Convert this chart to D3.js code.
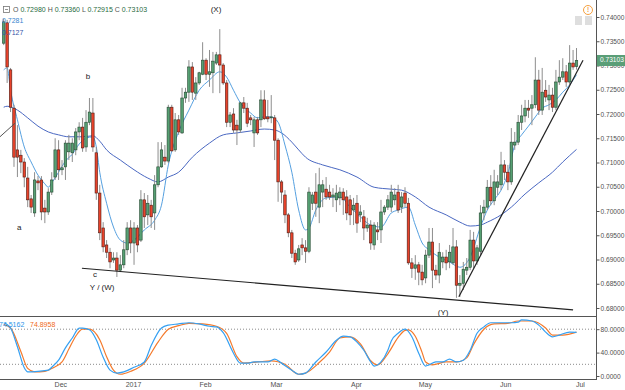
<!DOCTYPE html>
<html>
<head>
<meta charset="utf-8">
<script src="https://cdnjs.cloudflare.com/ajax/libs/d3/7.8.5/d3.min.js"></script>
<style>
  body { margin: 0; background: #fff; }
  svg { display: block; font-family: "Liberation Sans", Arial, sans-serif; }
</style>
</head>
<body>
<div id="chart"></div>
<script>
// daily candles, 8 Nov 2016 .. 30 Jun 2017 (index 0..167)
let opens = [
  0.7346,0.7388,0.7291,0.7212,0.7126,0.7115,0.7101,0.7068,0.7025,0.6996,0.7062,0.7064,
  0.7006,0.6998,0.7039,0.7070,0.7126,0.7085,0.7091,0.7122,0.7120,0.7126,0.7163,0.7173,
  0.7132,0.7183,0.7202,0.7120,0.7037,0.6965,0.6930,0.6915,0.6899,0.6903,0.6878,0.6889,
  0.6920,0.6965,0.6934,0.6965,0.6940,0.7023,0.6992,0.7012,0.6996,0.7054,0.7091,0.7111,
  0.7103,0.7214,0.7126,0.7188,0.7161,0.7233,0.7245,0.7297,0.7243,0.7264,0.7282,0.7311,
  0.7282,0.7285,0.7305,0.7322,0.7301,0.7264,0.7183,0.7200,0.7177,0.7167,0.7223,0.7212,
  0.7192,0.7161,0.7188,0.7188,0.7229,0.7194,0.7192,0.7192,0.7146,0.7060,0.7033,0.6992,
  0.6955,0.6913,0.6899,0.6930,0.6924,0.6917,0.7016,0.7039,0.7008,0.7039,0.7045,0.7039,
  0.7029,0.7023,0.7027,0.7039,0.7029,0.7023,0.7002,0.7016,0.6992,0.6988,0.6965,0.6971,
  0.6930,0.6961,0.6961,0.6998,0.7008,0.7008,0.7023,0.7039,0.7008,0.7037,0.7016,0.6893,
  0.6882,0.6889,0.6874,0.6862,0.6909,0.6936,0.6878,0.6868,0.6895,0.6905,0.6895,0.6893,
  0.6926,0.6847,0.6851,0.6878,0.6884,0.6940,0.6897,0.6917,0.6996,0.7008,0.7049,0.7021,
  0.7049,0.7054,0.7095,0.7080,0.7060,0.7136,0.7142,0.7183,0.7196,0.7212,0.7212,0.7219,
  0.7270,0.7208,0.7249,0.7229,0.7239,0.7214,0.7266,0.7276,0.7287,0.7266,0.7305,0.72980
];
let highs = [
  0.7396,0.7394,0.7295,0.7219,0.7177,0.7126,0.7109,0.7091,0.7033,0.7080,0.7072,0.7072,
  0.7023,0.7047,0.7080,0.7150,0.7146,0.7105,0.7146,0.7157,0.7150,0.7171,0.7183,0.7192,
  0.7208,0.7233,0.7233,0.7132,0.7054,0.6977,0.6940,0.6924,0.6915,0.6915,0.6909,0.6940,
  0.6977,0.6981,0.6977,0.6971,0.7043,0.7037,0.7033,0.7023,0.7074,0.7142,0.7142,0.7136,
  0.7219,0.7219,0.7202,0.7198,0.7254,0.7254,0.7311,0.7307,0.7276,0.7287,0.7348,0.7315,
  0.7332,0.7328,0.7328,0.7375,0.7305,0.7270,0.7204,0.7212,0.7188,0.7225,0.7235,0.7223,
  0.7198,0.7194,0.7194,0.7249,0.7249,0.7229,0.7239,0.7198,0.7150,0.7064,0.7043,0.6996,
  0.6961,0.6920,0.6930,0.6944,0.6940,0.7049,0.7039,0.7078,0.7089,0.7064,0.7070,0.7054,
  0.7047,0.7054,0.7049,0.7047,0.7043,0.7033,0.7027,0.7033,0.7012,0.7002,0.6986,0.6981,
  0.6977,0.6977,0.7023,0.7012,0.7033,0.7054,0.7047,0.7054,0.7039,0.7049,0.7027,0.6903,
  0.6909,0.6895,0.6889,0.6920,0.6965,0.6965,0.6889,0.6934,0.6915,0.6920,0.6930,0.6965,
  0.6940,0.6868,0.6895,0.6903,0.6961,0.6957,0.6930,0.7012,0.7023,0.7064,0.7074,0.7085,
  0.7074,0.7122,0.7105,0.7095,0.7171,0.7163,0.7198,0.7219,0.7229,0.7229,0.7239,0.7317,
  0.7291,0.7295,0.7270,0.7260,0.7254,0.7291,0.7311,0.7315,0.7301,0.7342,0.7332,0.73360
];
let lows = [
  0.7342,0.7264,0.7204,0.7091,0.7070,0.7078,0.7049,0.7008,0.6996,0.6988,0.7043,0.6981,
  0.6975,0.6992,0.7033,0.7064,0.7064,0.7074,0.7064,0.7105,0.7101,0.7115,0.7146,0.7122,
  0.7122,0.7177,0.7122,0.7023,0.6940,0.6915,0.6903,0.6882,0.6893,0.6864,0.6874,0.6882,
  0.6909,0.6913,0.6889,0.6915,0.6936,0.6965,0.6971,0.6965,0.6961,0.7049,0.7089,0.7095,
  0.7099,0.7122,0.7122,0.7157,0.7159,0.7223,0.7225,0.7229,0.7229,0.7260,0.7280,0.7270,
  0.7256,0.7243,0.7301,0.7243,0.7260,0.7173,0.7173,0.7161,0.7136,0.7161,0.7202,0.7173,
  0.7177,0.7132,0.7157,0.7173,0.7188,0.7183,0.7181,0.7105,0.7019,0.7016,0.6975,0.6946,
  0.6903,0.6889,0.6895,0.6909,0.6893,0.6913,0.7002,0.6988,0.6975,0.7008,0.7023,0.7023,
  0.7008,0.6998,0.7012,0.6992,0.6981,0.6971,0.6971,0.6955,0.6977,0.6940,0.6957,0.6920,
  0.6920,0.6940,0.6934,0.6992,0.7002,0.6998,0.7012,0.6996,0.6996,0.7008,0.6889,0.6862,
  0.6858,0.6847,0.6847,0.6851,0.6903,0.6841,0.6858,0.6851,0.6882,0.6878,0.6882,0.6889,
  0.6821,0.6823,0.6837,0.6868,0.6878,0.6882,0.6889,0.6909,0.6981,0.7002,0.7012,0.7012,
  0.7033,0.7043,0.7064,0.7043,0.7054,0.7126,0.7136,0.7167,0.7183,0.7192,0.7177,0.7212,
  0.7198,0.7198,0.7225,0.7208,0.7204,0.7208,0.7260,0.7270,0.7256,0.7260,0.7291,0.72915
];
let closes = [
  0.7390,0.7297,0.7214,0.7111,0.7111,0.7101,0.7070,0.7023,0.7008,0.7064,0.7058,0.6998,
  0.6998,0.7039,0.7064,0.7126,0.7085,0.7089,0.7140,0.7140,0.7140,0.7163,0.7173,0.7130,
  0.7183,0.7204,0.7132,0.7037,0.6955,0.6926,0.6915,0.6895,0.6903,0.6878,0.6889,0.6920,
  0.6965,0.6934,0.6965,0.6930,0.7023,0.6988,0.7016,0.6988,0.7054,0.7091,0.7126,0.7103,
  0.7214,0.7124,0.7188,0.7163,0.7233,0.7245,0.7297,0.7245,0.7264,0.7285,0.7311,0.7282,
  0.7287,0.7309,0.7322,0.7301,0.7264,0.7183,0.7198,0.7167,0.7167,0.7223,0.7212,0.7181,
  0.7188,0.7188,0.7161,0.7229,0.7190,0.7190,0.7194,0.7146,0.7060,0.7039,0.6992,0.6955,
  0.6913,0.6895,0.6922,0.6924,0.6917,0.7039,0.7033,0.7016,0.7054,0.7054,0.7029,0.7029,
  0.7033,0.7037,0.7039,0.7023,0.6996,0.6992,0.7012,0.6975,0.6998,0.6965,0.6971,0.6934,
  0.6971,0.6957,0.6998,0.7008,0.7023,0.7039,0.7033,0.7002,0.7029,0.7016,0.6893,0.6882,
  0.6889,0.6874,0.6858,0.6909,0.6936,0.6878,0.6868,0.6915,0.6905,0.6893,0.6915,0.6926,
  0.6847,0.6851,0.6880,0.6884,0.6940,0.6897,0.6924,0.6996,0.7008,0.7049,0.7021,0.7060,
  0.7060,0.7095,0.7080,0.7060,0.7142,0.7142,0.7183,0.7196,0.7212,0.7208,0.7219,0.7270,
  0.7208,0.7245,0.7235,0.7239,0.7214,0.7266,0.7276,0.7287,0.7266,0.7305,0.7297,0.73103
];

// moving averages, read at these candle indices
let fastIdx = [0,1,2,4,6,8,10,12,13,14,16,18,20,22,24,26,27,28,30,32,34,36,38,41,44,46,48,51,54,57,60,63,65,67,69,72,74,76,78,80,82,84,86,88,89,91,94,98,101,104,107,110,113,115,118,120,122,124,127,130,133,136,139,141,143,145,147,149,151,153,155,157,159,161,163,165,167];
let fastMA  = [0.7291,0.7295,0.7249,0.7188,0.7132,0.7101,0.7074,0.7056,0.7049,0.7058,0.7080,0.7103,0.7117,0.7138,0.7150,0.7153,0.7132,0.7080,0.7016,0.6967,0.6940,0.6934,0.6940,0.6961,0.6981,0.7012,0.7095,0.7163,0.7208,0.7249,0.7270,0.7287,0.7276,0.7249,0.7223,0.7202,0.7192,0.7194,0.7194,0.7183,0.7136,0.7080,0.7002,0.6961,0.6965,0.7002,0.7027,0.7029,0.7008,0.6988,0.6971,0.6967,0.6996,0.7002,0.7008,0.6971,0.6934,0.6920,0.6905,0.6895,0.6884,0.6905,0.6967,0.7002,0.7023,0.7043,0.7078,0.7136,0.7157,0.7175,0.7194,0.7212,0.7219,0.7229,0.7245,0.7260,0.7281];
let slowIdx = [0,1,4,7,10,13,16,19,23,26,28,30,34,38,42,45,48,51,55,60,64,68,72,76,79,81,84,86,88,93,98,103,108,113,116,120,124,129,133,136,139,141,145,148,152,156,160,163,167];
let slowMA  = [0.7214,0.7216,0.7208,0.7192,0.7175,0.7163,0.7157,0.7153,0.7153,0.7155,0.7144,0.7126,0.7105,0.7085,0.7068,0.7060,0.7070,0.7080,0.7111,0.7140,0.7157,0.7161,0.7165,0.7169,0.7167,0.7161,0.7142,0.7126,0.7111,0.7095,0.7085,0.7070,0.7049,0.7045,0.7043,0.7029,0.7008,0.6992,0.6977,0.6969,0.6971,0.6977,0.6992,0.7008,0.7035,0.7058,0.7080,0.7101,0.7127];

// stochastic %K (blue) and %D (orange)
let kIdx = [0,1,2,4,6,7,10,13,14,16,18,20,22,23,25,27,29,31,33,35,38,41,43,46,48,51,54,57,60,62,64,67,69,71,73,77,79,81,84,86,88,91,94,97,99,101,103,105,107,108,110,112,113,115,117,119,121,123,124,126,128,130,132,134,136,138,140,142,145,148,150,151,154,156,158,160,162,165,167];
let kVal = [91,88,82,50,14,7,8,10,15,27,48,65,82,82,79,62,32,10,5,7,15,24,52,82,87,89,91,89,85,84,74,39,22,22,24,24,29,22,10,3,5,24,41,61,68,67,58,44,24,17,24,44,60,73,80,67,39,17,19,24,24,29,24,27,44,73,84,91,91,91,92,96,94,87,75,67,70,75,74.5162];
let dIdx = [0,2,5,7,9,12,14,17,19,21,23,25,28,30,32,34,37,41,45,48,51,54,58,62,65,68,70,74,78,82,86,88,92,95,98,101,104,107,109,112,115,117,118,120,122,123,125,129,132,135,137,140,143,147,150,154,158,160,163,167];
let dVal = [88,82,42,13,7,8,13,24,46,68,80,80,62,33,10,3,8,22,58,80,86,90,89,85,73,33,22,24,26,20,3,5,23,41,65,67,55,26,19,38,66,78,79,68,40,24,19,24,24,31,54,80,89,90,94,94,82,70,70,74.8958];

// axes
let priceTicks = [0.68,0.685,0.69,0.695,0.70,0.705,0.71,0.715,0.72,0.725,0.73,0.735,0.74];
let stochTicks = [0,40,80];
let monthLabels = ["Dec","2017","Feb","Mar","Apr","May","Jun","Jul"];
let monthPos = [16.5,37.7,58.7,79.4,102.7,122.8,146.2,168];

// drawn trend lines [index, price]
let wedgeLine = [[22.8,0.6882],[166,0.6796]];
let supportLine = [[132.7,0.6823],[168.9,0.7311]];
let oldLine = [[-1.1,0.7153],[3.3,0.7181]];

// wave labels
let waveText  = ["(X)","b","a","c","Y / (W)","(Y)"];
let waveIdx   = [61.9,24.6,4.5,26.6,28.7,128.1];
let wavePrice = [0.7414,0.7276,0.6965,0.6868,0.6841,0.6790];

let W = 625, H = 390, axisX = 596.5;

let svg = d3.select("#chart").append("svg")
    .attr("width", W)
    .attr("height", H);

let x = d3.scaleLinear().domain([0, 167]).range([3.7, 576.5]),
    y = d3.scaleLinear().domain([0.68, 0.74]).range([308, 17]),
    ys = d3.scaleLinear().domain([0, 100]).range([376, 317.5]);

let defs = svg.append("defs");
defs.append("clipPath").attr("id", "clipMain")
  .append("rect").attr("x", 0).attr("y", 0).attr("width", axisX).attr("height", 316);
defs.append("clipPath").attr("id", "clipStoch")
  .append("rect").attr("x", 0).attr("y", 317).attr("width", axisX).attr("height", 62);

let main = svg.append("g").attr("clip-path", "url(#clipMain)");

// moving averages
let maLine = d3.line()
    .x(function(d) { return x(d[0]); })
    .y(function(d) { return y(d[1]); })
    .curve(d3.curveMonotoneX);

main.append("path")
    .attr("d", maLine(d3.zip(slowIdx, slowMA)))
    .attr("fill", "none").attr("stroke", "#4a68c2").attr("stroke-width", 1);
main.append("path")
    .attr("d", maLine(d3.zip(fastIdx, fastMA)))
    .attr("fill", "none").attr("stroke", "#55a0e0").attr("stroke-width", 1);

// candles
let candles = opens.map(function(o, i) {
    return { i: i, o: o, h: highs[i], l: lows[i], c: closes[i] };
});

main.selectAll("line.wick")
    .data(candles)
  .enter().append("line")
    .attr("class", "wick")
    .attr("x1", function(d) { return x(d.i); })
    .attr("x2", function(d) { return x(d.i); })
    .attr("y1", function(d) { return y(d.h); })
    .attr("y2", function(d) { return y(d.l); })
    .attr("stroke", "#8d8d8d")
    .attr("stroke-width", 1);

main.selectAll("rect.body")
    .data(candles)
  .enter().append("rect")
    .attr("class", "body")
    .attr("x", function(d) { return x(d.i) - 1.25; })
    .attr("width", 2.5)
    .attr("y", function(d) { return y(Math.max(d.o, d.c)); })
    .attr("height", function(d) { return Math.max(0.8, Math.abs(y(d.o) - y(d.c))); })
    .attr("fill", function(d) { return d.c >= d.o ? "#56a073" : "#e8432b"; })
    .attr("stroke", function(d) { return d.c >= d.o ? "#23472f" : "#4e1a12"; })
    .attr("stroke-width", 0.6);

// trend lines
let tl = d3.line()
    .x(function(d) { return x(d[0]); })
    .y(function(d) { return y(d[1]); });
main.append("path").attr("d", tl(wedgeLine))
    .attr("stroke", "#222").attr("stroke-width", 1.2).attr("fill", "none");
main.append("path").attr("d", tl(supportLine))
    .attr("stroke", "#222").attr("stroke-width", 1.2).attr("fill", "none");
main.append("path").attr("d", tl(oldLine))
    .attr("stroke", "#555").attr("stroke-width", 1).attr("fill", "none");

// wave labels
main.selectAll("text.wave")
    .data(waveText)
  .enter().append("text")
    .attr("class", "wave")
    .attr("x", function(d, i) { return x(waveIdx[i]); })
    .attr("y", function(d, i) { return y(wavePrice[i]); })
    .attr("text-anchor", "middle")
    .attr("dominant-baseline", "middle")
    .attr("font-size", 8)
    .attr("fill", "#1a1a1a")
    .text(function(d) { return d; });

// stochastic panel
let st = svg.append("g").attr("clip-path", "url(#clipStoch)");
[80, 20].forEach(function(v) {
    st.append("line")
        .attr("x1", 0).attr("x2", axisX)
        .attr("y1", ys(v)).attr("y2", ys(v))
        .attr("stroke", "#8a8a8a")
        .attr("stroke-dasharray", "1,2");
});
let stLine = d3.line()
    .x(function(d) { return x(d[0]); })
    .y(function(d) { return ys(d[1]); })
    .curve(d3.curveMonotoneX);
st.append("path").attr("d", stLine(d3.zip(dIdx, dVal)))
    .attr("fill", "none").attr("stroke", "#f47a2c").attr("stroke-width", 1.2);
st.append("path").attr("d", stLine(d3.zip(kIdx, kVal)))
    .attr("fill", "none").attr("stroke", "#35a0f2").attr("stroke-width", 1.2);

// frame lines
svg.append("line").attr("x1", 0).attr("x2", axisX).attr("y1", 316.5).attr("y2", 316.5)
    .attr("stroke", "#555").attr("stroke-width", 1);
svg.append("line").attr("x1", 0).attr("x2", axisX).attr("y1", 379.5).attr("y2", 379.5)
    .attr("stroke", "#555").attr("stroke-width", 1);
svg.append("line").attr("x1", axisX).attr("x2", axisX).attr("y1", 0).attr("y2", 380)
    .attr("stroke", "#555").attr("stroke-width", 1);

// price axis
let pAxis = svg.append("g")
    .attr("transform", "translate(" + axisX + ",0)")
    .call(d3.axisRight(y).tickValues(priceTicks).tickSize(3).tickPadding(1)
          .tickFormat(d3.format(".5f")));
let sAxis = svg.append("g")
    .attr("transform", "translate(" + axisX + ",0)")
    .call(d3.axisRight(ys).tickValues(stochTicks).tickSize(3).tickPadding(1)
          .tickFormat(d3.format(".4f")));
let tAxis = svg.append("g")
    .attr("transform", "translate(0,379.5)")
    .call(d3.axisBottom(x).tickValues(monthPos).tickSize(0).tickPadding(3)
          .tickFormat(function(d, i) { return monthLabels[i]; }));

[pAxis, sAxis].forEach(function(g) {
    g.selectAll(".tick text").attr("font-size", 6.6);
});
tAxis.selectAll(".tick text").attr("font-size", 7);
[pAxis, sAxis, tAxis].forEach(function(g) {
    g.select(".domain").remove();
    g.selectAll(".tick line").attr("stroke", "#555");
    g.selectAll(".tick text")
        .attr("fill", "#505050")
        .attr("font-family", "Liberation Sans, Arial, sans-serif");
});

// last price tag
let last = closes[closes.length - 1];
svg.append("rect")
    .attr("x", axisX + 0.5).attr("y", y(last) - 5.5)
    .attr("width", 28).attr("height", 11)
    .attr("fill", "#5a9e77");
svg.append("text")
    .attr("x", axisX + 3.5).attr("y", y(last))
    .attr("dominant-baseline", "middle")
    .attr("font-size", 6.6).attr("fill", "#fff")
    .text(d3.format(".5f")(last));

// legend, top left
svg.append("rect").attr("x", 3.5).attr("y", 6.5).attr("width", 6).attr("height", 6)
    .attr("fill", "#fff").attr("stroke", "#777").attr("stroke-width", 0.8);
svg.append("line").attr("x1", 5).attr("x2", 8).attr("y1", 9.5).attr("y2", 9.5)
    .attr("stroke", "#777").attr("stroke-width", 0.8);

let ohlcName = ["O", "H", "L", "C"],
    ohlcVal = [opens[167], highs[167], lows[167], closes[167]];
let leg = svg.append("text").attr("x", 13).attr("y", 10)
    .attr("dominant-baseline", "middle").attr("font-size", 7);
ohlcName.forEach(function(n, i) {
    leg.append("tspan").attr("fill", "#555").text((i ? " " : "") + n + " ");
    leg.append("tspan").attr("fill", "#1f6b40").text(d3.format(".5f")(ohlcVal[i]));
});

svg.append("text").attr("x", 2).attr("y", 21)
    .attr("dominant-baseline", "middle").attr("font-size", 7).attr("fill", "#3a86cf")
    .text(d3.format(".4f")(fastMA[fastMA.length - 1]));
svg.append("text").attr("x", 2).attr("y", 33.5)
    .attr("dominant-baseline", "middle").attr("font-size", 7).attr("fill", "#3553a8")
    .text(d3.format(".4f")(slowMA[slowMA.length - 1]));

svg.append("text").attr("x", -1).attr("y", 325)
    .attr("dominant-baseline", "middle").attr("font-size", 7).attr("fill", "#2b94e8")
    .text(d3.format(".4f")(kVal[kVal.length - 1]));
svg.append("text").attr("x", 30).attr("y", 325)
    .attr("dominant-baseline", "middle").attr("font-size", 7).attr("fill", "#f06a1a")
    .text(d3.format(".4f")(dVal[dVal.length - 1]));

// small icons, top right
svg.append("circle").attr("cx", 588).attr("cy", 10).attr("r", 4.5)
    .attr("fill", "#fff").attr("stroke", "#f5a040").attr("stroke-width", 1);
svg.append("text").attr("x", 588).attr("y", 10.5)
    .attr("text-anchor", "middle").attr("dominant-baseline", "middle")
    .attr("font-size", 6.5).attr("font-weight", "bold").attr("fill", "#f5a040").text("!");
[575, 585].forEach(function(bx) {
    svg.append("rect").attr("x", bx).attr("y", 16).attr("width", 7).attr("height", 9)
        .attr("fill", "#dedede");
});
</script>
</body>
</html>
